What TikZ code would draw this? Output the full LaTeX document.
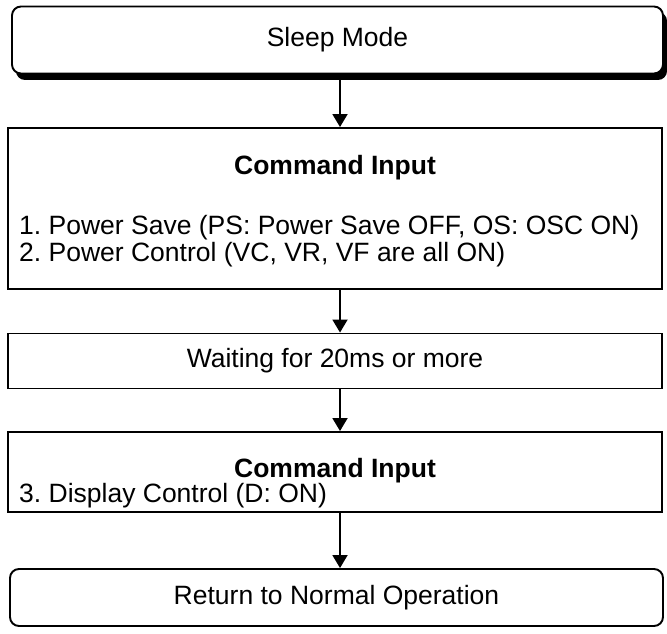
\documentclass[tikz,border=0pt]{standalone}
\usepackage{fontspec}
\setmainfont{Liberation Sans}
\usetikzlibrary{positioning,arrows.meta,calc}
\frenchspacing

\tikzset{
  boxline/.style={draw=black, line width=1.9pt},
  roundbox/.style={boxline, rounded corners=9pt, fill=white, minimum width=651pt, inner sep=0pt},
  flatbox/.style={boxline, fill=white, minimum width=654pt, inner sep=0pt},
  flowarrow/.style={line width=1.9pt, -{Triangle[length=13pt,width=15pt]}},
}

\begin{document}
\begin{tikzpicture}[x=1pt,y=1pt,font=\fontsize{26.5}{30}\selectfont]
  \useasboundingbox (0,0) rectangle (667,-634);
  \coordinate (spine) at (340,0);

  % Sleep Mode, shadow under it
  \fill[black, rounded corners=9pt] (16,-12) rectangle (667,-80);
  \node[roundbox, minimum height=67pt] (sleep) at (337.5,-40) {Sleep Mode};

  % first command block
  \node[flatbox, minimum height=161pt] (cmdA) at (335,-208.5) {};
  \node[anchor=base] (cmdAtitle) at (335,-174) {\textbf{Command Input}};
  \node[anchor=base west, inner sep=0pt] (cmdAone) at (19,-234) {1. Power Save (PS: Power Save OFF, OS: OSC ON)};
  \node[anchor=base west, inner sep=0pt] (cmdAtwo) at (19,-261) {2. Power Control (VC, VR, VF are all ON)};

  % wait
  \node[flatbox, minimum height=55pt] (wait) at (335,-361) {Waiting for 20ms or more};

  % second command block
  \node[flatbox, minimum height=80pt] (cmdB) at (335,-472) {};
  \node[anchor=base] (cmdBtitle) at (335,-477) {\textbf{Command Input}};
  \node[anchor=base west, inner sep=0pt] (cmdBone) at (19,-502) {3. Display Control (D: ON)};

  % back to normal
  \node[roundbox, minimum height=57pt, minimum width=653pt] (normal) at (336.5,-597.5) {Return to Normal Operation};

  % arrows
  \draw[flowarrow] ($(spine |- sleep.south)+(0,-6)$) -- (spine |- cmdA.north);
  \draw[flowarrow] (spine |- cmdA.south) -- (spine |- wait.north);
  \draw[flowarrow] (spine |- wait.south) -- (spine |- cmdB.north);
  \draw[flowarrow] (spine |- cmdB.south) -- (spine |- normal.north);
\end{tikzpicture}
\end{document}
